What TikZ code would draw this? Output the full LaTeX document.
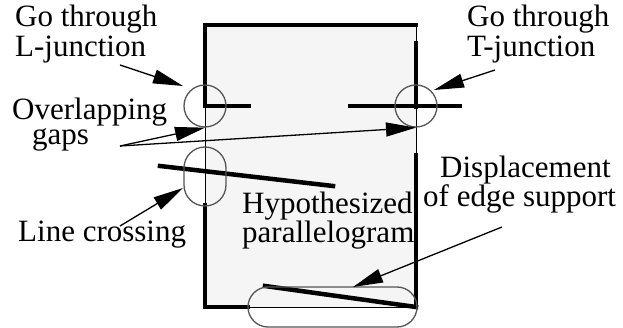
\documentclass[tikz,border=0pt]{standalone}
\usepackage{fontspec}
\setmainfont{Liberation Serif}
\usetikzlibrary{arrows.meta}
\definecolor{boxfill}{HTML}{F5F5F5}
\definecolor{ringcol}{HTML}{555555}
\begin{document}
\begin{tikzpicture}[x=1pt,y=-1pt,
  lbl/.style={anchor=base west,inner sep=0pt,align=left},
  wide/.style={font=\fontsize{31}{30}\selectfont},
  mid/.style={font=\fontsize{31}{25}\selectfont},
  tight/.style={font=\fontsize{31}{21}\selectfont},
  thickedge/.style={line width=4.5pt,line cap=rect},
  thinedge/.style={line width=1pt},
  ring/.style={draw=ringcol,line width=1.3pt},
  pointer/.style={line width=1.3pt,-{Triangle[length=30pt,width=14pt]}}]
\useasboundingbox (0,0) rectangle (623,328);
% shape
\fill[boxfill] (205,25) rectangle (416,307);
\draw[thinedge] (416,25) -- (416,307) -- (248,307);
\draw[thinedge] (205,106) -- (205,205);
\draw[thickedge] (205,106) -- (205,25) -- (416,25);
\draw[thickedge] (205,106) -- (249,106);
\draw[thickedge] (205,205) -- (205,307) -- (248,307);
\draw[thickedge] (416,43) -- (416,107);
\draw[thickedge] (416,155) -- (416,307);
\draw[thickedge] (350,106) -- (460,106);
\draw[thickedge] (160,166) -- (333,186);
\draw[thickedge] (265,286) -- (416,307);
% rings
\node[ring,circle,minimum size=42pt,inner sep=0pt] (lj) at (205,106) {};
\node[ring,circle,minimum size=42pt,inner sep=0pt] (tj) at (416,106) {};
\draw[ring,rounded corners=21pt] (184,147) rectangle (226,206);
\draw[ring,rounded corners=20pt] (248,287) rectangle (417,327);
% labels (anchor = baseline of last line)
\node[lbl,wide] (lt) at (15,57) {Go through\\L-junction};
\node[lbl,wide] (tt) at (467,57) {Go through\\T-junction};
\node[lbl,mid] (ot) at (12,145) {Overlapping\\\hspace*{20pt}gaps};
\node[lbl,wide] (lc) at (18,242) {Line crossing};
\node[lbl,tight] (ht) at (242,243) {Hypothesized\\parallelogram};
\node[lbl,tight] (dt) at (423,207) {\hspace*{17pt}Displacement\\of edge support};
% connector ends
\coordinate (aL0) at (120,65);  \coordinate (aL1) at (183,86);
\coordinate (aT0) at (495,70);  \coordinate (aT1) at (434,90);
\coordinate (aG0) at (120,146);
\coordinate (aC0) at (120,226); \coordinate (aC1) at (183,188);
\coordinate (aD0) at (502,227); \coordinate (aD1) at (353,287);
\draw[pointer] (aL0) -- (aL1);
\draw[pointer] (aT0) -- (aT1);
\draw[pointer] (aG0) -- (lj.south);
\draw[pointer] (aG0) -- (tj.south);
\draw[pointer] (aC0) -- (aC1);
\draw[pointer] (aD0) -- (aD1);
\end{tikzpicture}
\end{document}
